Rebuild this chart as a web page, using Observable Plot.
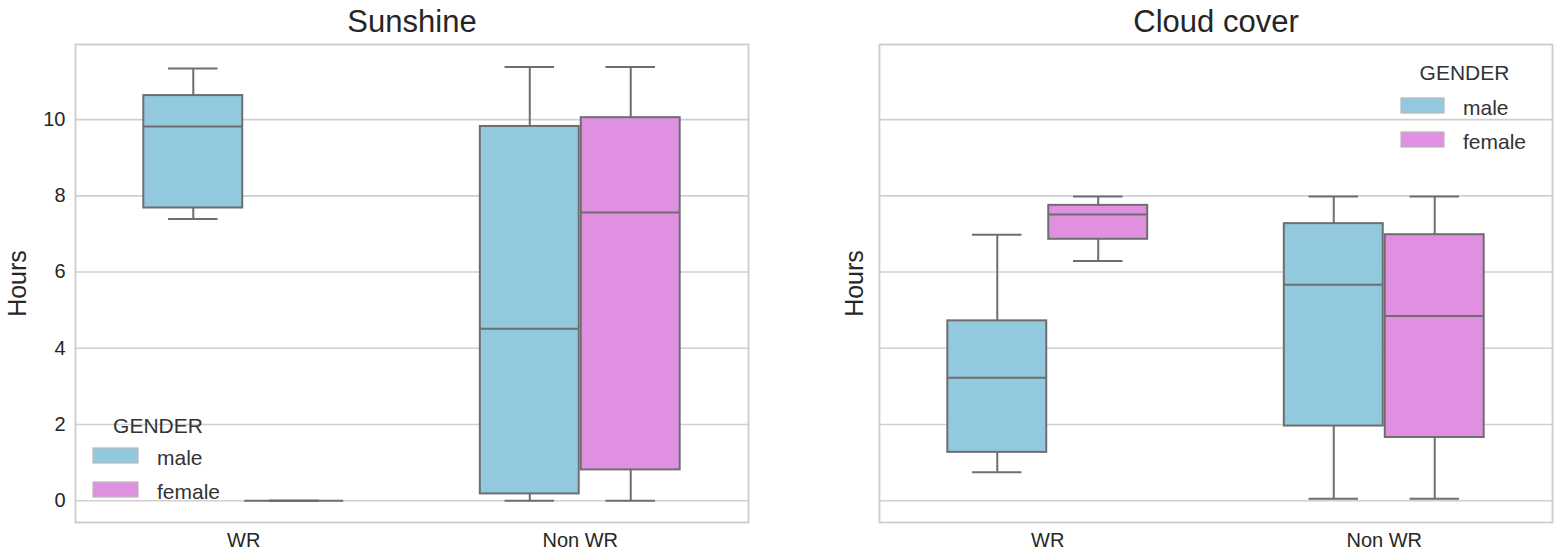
<!DOCTYPE html>
<html>
<head>
<meta charset="utf-8">
<script src="https://cdn.jsdelivr.net/npm/d3@7"></script>
<script src="https://cdn.jsdelivr.net/npm/@observablehq/plot@0.6"></script>
<style>
  html, body { margin: 0; padding: 0; background: #fff; }
  #wrap { position: relative; width: 1559px; height: 554px; overflow: hidden; }
  #wrap > div { position: absolute; top: 0; }
  svg { display: block; }
</style>
</head>
<body>
<div id="wrap"><div id="left" style="left:0"></div><div id="right" style="left:780px"></div></div>
<script>
// ---- data ----
const categories = ["WR", "Non WR"];
const genders = ["male", "female"];
const panelTitles = ["Sunshine", "Cloud cover"];
const yLabel = "Hours";
const legendTitle = "GENDER";
const yTicks = [0, 2, 4, 6, 8, 10];
const genderColors = ["#93c9de", "#e090e0"];

// Sunshine (hours), values per category [WR, Non WR]
const sunMaleLow = [7.39, 0.0];
const sunMaleQ1 = [7.68, 0.18];
const sunMaleMedian = [9.82, 4.51];
const sunMaleQ3 = [10.63, 9.82];
const sunMaleHigh = [11.34, 11.38];
const sunFemaleLow = [0.0, 0.0];
const sunFemaleQ1 = [0.0, 0.81];
const sunFemaleMedian = [0.0, 7.56];
const sunFemaleQ3 = [0.0, 10.05];
const sunFemaleHigh = [0.0, 11.38];

// Cloud cover, values per category [WR, Non WR]
const cloudMaleLow = [0.75, 0.05];
const cloudMaleQ1 = [1.27, 1.96];
const cloudMaleMedian = [3.23, 5.67];
const cloudMaleQ3 = [4.72, 7.27];
const cloudMaleHigh = [6.98, 7.98];
const cloudFemaleLow = [6.29, 0.05];
const cloudFemaleQ1 = [6.86, 1.66];
const cloudFemaleMedian = [7.51, 4.85];
const cloudFemaleQ3 = [7.75, 6.98];
const cloudFemaleHigh = [7.98, 7.98];

// ---- build tables ----
const OFFSET = 0.15;   // hue offset from category center
const HALF = 0.147;    // half box width in category units
function buildRows(stats) {
  const rows = [];
  categories.forEach((cat, i) => {
    genders.forEach((g, j) => {
      const s = stats[g];
      rows.push({
        cat, gender: g,
        c: i + (j === 0 ? -OFFSET : OFFSET),
        low: s.low[i], q1: s.q1[i], med: s.med[i], q3: s.q3[i], high: s.high[i]
      });
    });
  });
  return rows;
}
const sunRows = buildRows({
  male: {low: sunMaleLow, q1: sunMaleQ1, med: sunMaleMedian, q3: sunMaleQ3, high: sunMaleHigh},
  female: {low: sunFemaleLow, q1: sunFemaleQ1, med: sunFemaleMedian, q3: sunFemaleQ3, high: sunFemaleHigh}
});
const cloudRows = buildRows({
  male: {low: cloudMaleLow, q1: cloudMaleQ1, med: cloudMaleMedian, q3: cloudMaleQ3, high: cloudMaleHigh},
  female: {low: cloudFemaleLow, q1: cloudFemaleQ1, med: cloudFemaleMedian, q3: cloudFemaleQ3, high: cloudFemaleHigh}
});

const EDGE = "#6e6e6e";
const TEXT = "#262626";
const FONT = "'Liberation Sans', Arial, Helvetica, sans-serif";

function chart({title, rows, width, marginLeft, marginRight, showYTicks, labelDx}) {
  const marks = [
    Plot.gridY(yTicks, {stroke: "#d0d0d0", strokeOpacity: 1, strokeWidth: 1.6}),
    Plot.frame({stroke: "#cccccc", strokeWidth: 1.8}),
    Plot.axisX([0, 1], {tickSize: 0, tickPadding: 10, tickFormat: i => categories[i], label: null, fill: TEXT}),
  ];
  if (showYTicks) {
    marks.push(Plot.axisY(yTicks, {tickSize: 0, tickPadding: 10, label: null, fill: TEXT}));
  }
  marks.push(
    Plot.ruleX(rows, {x: "c", y1: "q3", y2: "high", stroke: EDGE, strokeWidth: 2}),
    Plot.ruleX(rows, {x: "c", y1: "low", y2: "q1", stroke: EDGE, strokeWidth: 2}),
    Plot.rect(rows, {x1: d => d.c - HALF, x2: d => d.c + HALF, y1: "q1", y2: "q3", fill: "gender", stroke: EDGE, strokeWidth: 2}),
    Plot.ruleY(rows, {y: "med", x1: d => d.c - HALF, x2: d => d.c + HALF, stroke: EDGE, strokeWidth: 2}),
    Plot.ruleY(rows, {y: "high", x1: d => d.c - HALF / 2, x2: d => d.c + HALF / 2, stroke: EDGE, strokeWidth: 2}),
    Plot.ruleY(rows, {y: "low", x1: d => d.c - HALF / 2, x2: d => d.c + HALF / 2, stroke: EDGE, strokeWidth: 2}),
    Plot.text([title], {frameAnchor: "top", dy: -13, lineAnchor: "bottom", fontSize: 31, fill: TEXT}),
    Plot.text([yLabel], {frameAnchor: "left", dx: labelDx, rotate: -90, textAnchor: "middle", lineAnchor: "bottom", fontSize: 25, fill: TEXT})
  );
  return Plot.plot({
    width, height: 554,
    marginTop: 44, marginBottom: 32, marginLeft, marginRight,
    style: {fontFamily: FONT, fontSize: "20px", background: "white", color: TEXT, overflow: "visible"},
    x: {type: "linear", domain: [-0.5, 1.5], axis: null},
    y: {domain: [-0.57, 11.97], axis: null},
    color: {domain: genders, range: genderColors},
    marks
  });
}

function addLegend(svg, {titleX, titleY, patchX, patchW, patchY, labelX}) {
  const g = d3.select(svg).append("g").attr("font-family", FONT).attr("font-size", 21).attr("fill", "#333");
  g.append("text").attr("x", titleX).attr("y", titleY).attr("text-anchor", "middle").text(legendTitle);
  genders.forEach((gd, i) => {
    const y = patchY[i];
    g.append("rect").attr("x", patchX).attr("y", y).attr("width", patchW).attr("height", 15)
      .attr("fill", genderColors[i]).attr("stroke", "#b8b8b8").attr("stroke-width", 1.2);
    g.append("text").attr("x", labelX).attr("y", y + 17).attr("text-anchor", "start").text(gd);
  });
}

const left = chart({title: panelTitles[0], rows: sunRows, width: 780, marginLeft: 75, marginRight: 32, showYTicks: true, labelDx: -50});
addLegend(left, {titleX: 158, titleY: 433, patchX: 93, patchW: 45, patchY: [448, 482], labelX: 157});
document.getElementById("left").appendChild(left);

const right = chart({title: panelTitles[1], rows: cloudRows, width: 779, marginLeft: 99, marginRight: 7, showYTicks: false, labelDx: -17});
addLegend(right, {titleX: 1464.5 - 780, titleY: 80, patchX: 621, patchW: 43, patchY: [98, 132], labelX: 683});
document.getElementById("right").appendChild(right);
</script>
</body>
</html>
